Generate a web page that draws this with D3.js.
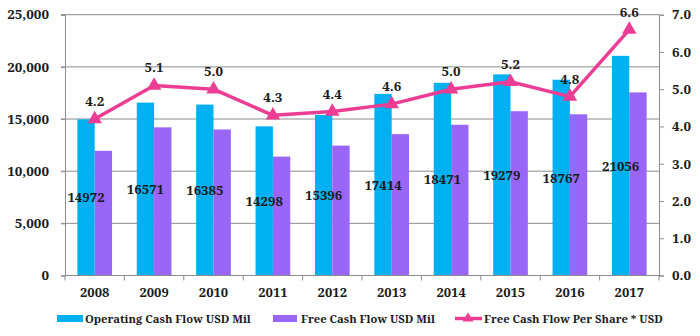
<!DOCTYPE html>
<html>
<head>
<meta charset="utf-8">
<script src="https://cdn.jsdelivr.net/npm/d3@7"></script>
<style>
  html, body { margin: 0; padding: 0; background: #fff; }
</style>
</head>
<body>
<svg id="chart" width="700" height="336"></svg>
<script>
// Yearly cash flow figures
const years = ["2008", "2009", "2010", "2011", "2012", "2013", "2014", "2015", "2016", "2017"];
const operatingCashFlow = [14972, 16571, 16385, 14298, 15396, 17414, 18471, 19279, 18767, 21056];
const freeCashFlow = [11950, 14200, 14000, 11400, 12450, 13550, 14450, 15750, 15450, 17550];
const fcfPerShare = [4.2, 5.1, 5.0, 4.3, 4.4, 4.6, 5.0, 5.2, 4.8, 6.6];
const leftTicks = [0, 5000, 10000, 15000, 20000, 25000];
const rightTicks = [0, 1, 2, 3, 4, 5, 6, 7];
const seriesNames = ["Operating Cash Flow USD Mil", "Free Cash Flow USD Mil", "Free Cash Flow Per Share * USD"];

const colors = { ocf: "#00b0f0", fcf: "#9966f8", line: "#ec3d95", grid: "#8c8c8c" };
const FONT = "'Noto Serif', 'Liberation Serif', serif";

const svg = d3.select("#chart");
const m = { left: 65, right: 659, top: 14.7, bottom: 275.5 };

const x = d3.scaleBand().domain(years).range([m.left, m.right]).paddingInner(0).paddingOuter(0);
const yL = d3.scaleLinear().domain([0, 25000]).range([m.bottom, m.top]);
const yR = d3.scaleLinear().domain([0, 7]).range([m.bottom, m.top]);
const barW = x.bandwidth() * 0.292;

function styleText(sel, size) {
  return sel.attr("font-family", FONT).attr("font-weight", "bold")
     .attr("font-size", size).attr("fill", "#1a1a1a");
}

// Shrink or grow a legend label so it spans the given width
function fitText(sel, width) {
  const node = sel.node();
  const size = +sel.attr("font-size");
  const w = node.getComputedTextLength();
  if (w > 0) sel.attr("font-size", (size * width / w).toFixed(2));
  return sel;
}

// Horizontal gridlines
svg.append("g").selectAll("line").data(leftTicks.filter(d => d > 0)).join("line")
  .attr("x1", m.left - 4).attr("x2", m.right)
  .attr("y1", d => yL(d)).attr("y2", d => yL(d))
  .attr("stroke", colors.grid).attr("stroke-width", 1);

// Left axis
const gL = svg.append("g").attr("transform", `translate(${m.left},0)`)
  .call(d3.axisLeft(yL).tickValues(leftTicks).tickFormat(d3.format(",")).tickSize(4).tickPadding(12));
gL.attr("font-family", FONT);
gL.select(".domain").attr("stroke", colors.grid);
gL.selectAll(".tick line").attr("stroke", colors.grid);
styleText(gL.selectAll("text"), 13.4);

// Right axis
const gR = svg.append("g").attr("transform", `translate(${m.right},0)`)
  .call(d3.axisRight(yR).tickValues(rightTicks).tickFormat(d3.format(".1f")).tickSize(5).tickPadding(8));
gR.attr("font-family", FONT);
gR.select(".domain").attr("stroke", colors.grid);
gR.selectAll(".tick line").attr("stroke", colors.grid);
styleText(gR.selectAll("text"), 13.4);

// Bars
const bars = svg.append("g");
bars.selectAll("rect.ocf").data(years).join("rect").attr("class", "ocf")
  .attr("x", d => x(d) + x.bandwidth() / 2 - barW)
  .attr("width", barW)
  .attr("y", (d, i) => yL(operatingCashFlow[i]))
  .attr("height", (d, i) => yL(0) - yL(operatingCashFlow[i]))
  .attr("fill", colors.ocf);
bars.selectAll("rect.fcf").data(years).join("rect").attr("class", "fcf")
  .attr("x", d => x(d) + x.bandwidth() / 2)
  .attr("width", barW)
  .attr("y", (d, i) => yL(freeCashFlow[i]))
  .attr("height", (d, i) => yL(0) - yL(freeCashFlow[i]))
  .attr("fill", colors.fcf);

// Bottom axis with ticks at category boundaries
const gB = svg.append("g");
gB.append("line").attr("x1", m.left).attr("x2", m.right).attr("y1", m.bottom).attr("y2", m.bottom)
  .attr("stroke", colors.grid);
gB.selectAll("line.tk").data(years.concat(["end"])).join("line").attr("class", "tk")
  .attr("x1", (d, i) => m.left + i * x.bandwidth()).attr("x2", (d, i) => m.left + i * x.bandwidth())
  .attr("y1", m.bottom).attr("y2", m.bottom + 5).attr("stroke", colors.grid);
styleText(gB.selectAll("text").data(years).join("text")
  .attr("x", d => x(d) + x.bandwidth() / 2).attr("y", 297)
  .attr("text-anchor", "middle").text(d => d), 13);

// Operating cash flow value labels, centred inside the blue bars
styleText(svg.append("g").selectAll("text").data(years).join("text")
  .attr("x", d => x(d) + x.bandwidth() / 2 - barW / 2)
  .attr("y", (d, i) => yL(operatingCashFlow[i] / 2) + 5)
  .attr("text-anchor", "middle")
  .text((d, i) => operatingCashFlow[i]), 13.2);

// Per-share line with triangle markers
const lineGen = d3.line().x((d, i) => x(years[i]) + x.bandwidth() / 2).y(d => yR(d));
svg.append("path").datum(fcfPerShare).attr("d", lineGen)
  .attr("fill", "none").attr("stroke", colors.line).attr("stroke-width", 3.5).attr("stroke-linejoin", "round");
const tri = d3.symbol().type(d3.symbolTriangle).size(90);
svg.append("g").selectAll("path").data(fcfPerShare).join("path")
  .attr("d", tri)
  .attr("transform", (d, i) => `translate(${x(years[i]) + x.bandwidth() / 2},${yR(d)})`)
  .attr("fill", colors.line);
styleText(svg.append("g").selectAll("text").data(fcfPerShare).join("text")
  .attr("x", (d, i) => x(years[i]) + x.bandwidth() / 2)
  .attr("y", d => yR(d) - 13)
  .attr("text-anchor", "middle")
  .text(d => d3.format(".1f")(d)), 13.4);

// Legend
const lg = svg.append("g");
const ly = 323;
lg.append("rect").attr("x", 57).attr("y", 315).attr("width", 26).attr("height", 7).attr("fill", colors.ocf);
fitText(styleText(lg.append("text").attr("x", 85).attr("y", ly).text(seriesNames[0]), 13), 166);
lg.append("rect").attr("x", 273).attr("y", 315).attr("width", 24).attr("height", 7).attr("fill", colors.fcf);
fitText(styleText(lg.append("text").attr("x", 301).attr("y", ly).text(seriesNames[1]), 13), 134);
lg.append("line").attr("x1", 455).attr("x2", 482).attr("y1", 318.5).attr("y2", 318.5)
  .attr("stroke", colors.line).attr("stroke-width", 3.5);
lg.append("path").attr("d", d3.symbol().type(d3.symbolTriangle).size(50))
  .attr("transform", "translate(468,318.5)").attr("fill", colors.line);
fitText(styleText(lg.append("text").attr("x", 484).attr("y", ly).text(seriesNames[2]), 13), 179);
</script>
</body>
</html>
